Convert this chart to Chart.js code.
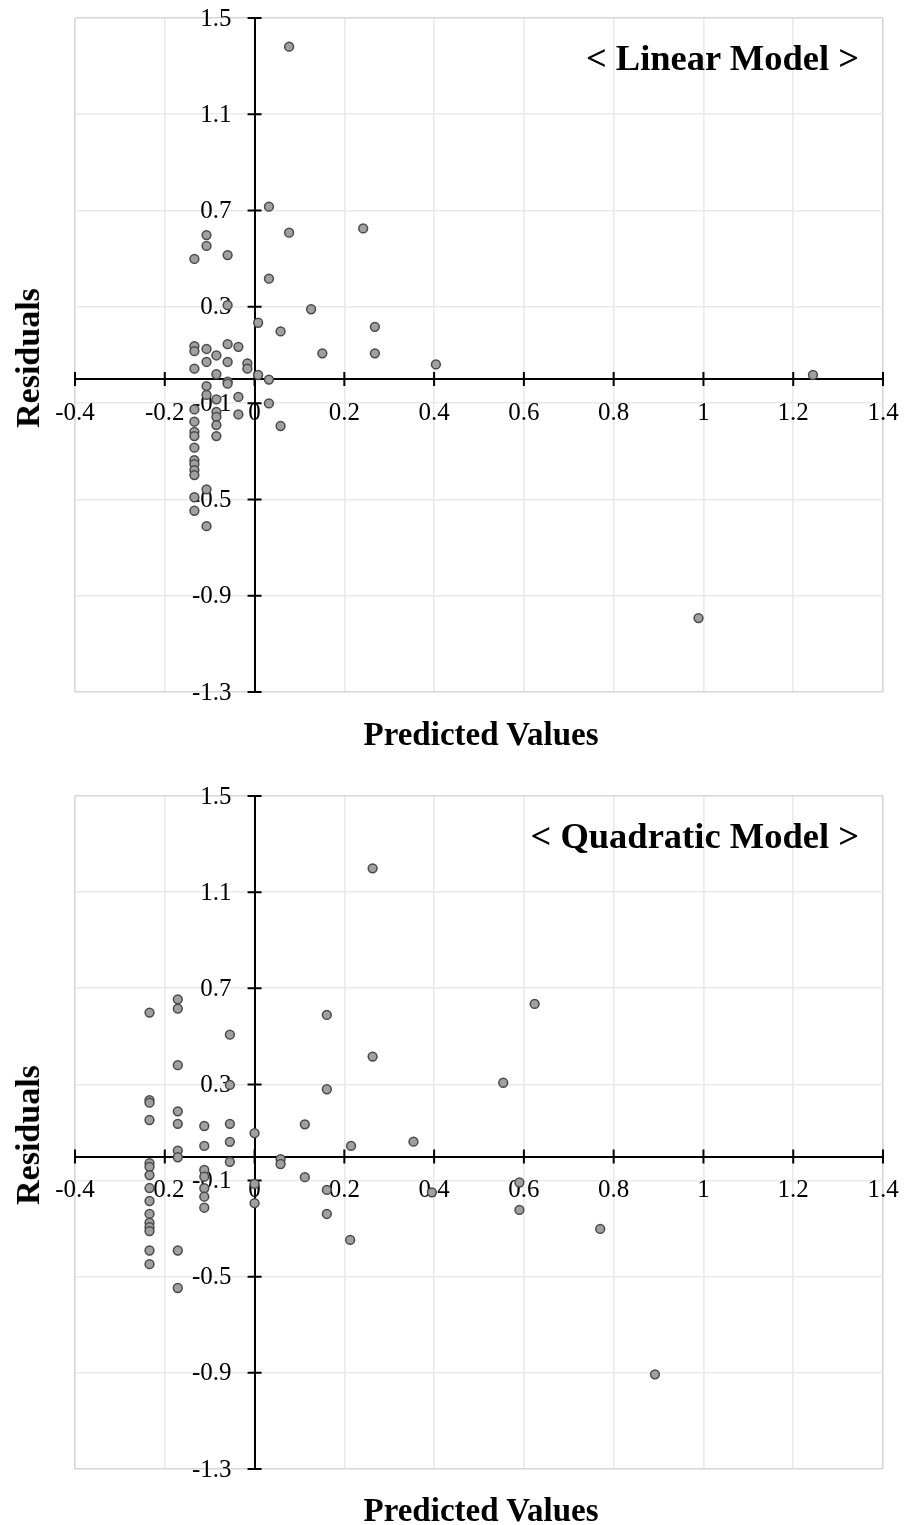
<!DOCTYPE html>
<html>
<head>
<meta charset="utf-8">
<script src="https://cdn.jsdelivr.net/npm/chart.js@4.4.1/dist/chart.umd.min.js"></script>
<style>
  html, body { margin: 0; padding: 0; background: #fff; }
  body { width: 904px; height: 1525px; position: relative; overflow: hidden; font-family: 'Liberation Serif', 'Times New Roman', serif; }
  canvas { position: absolute; left: 0; }
  #c1 { top: 0; }
  #c2 { top: 778px; }
  .lbl { position: absolute; font-weight: bold; color: #000; white-space: nowrap; line-height: 1; }
  .ytitle { font-size: 34px; transform: translate(-50%, -50%) rotate(-90deg); }
  .xtitle { font-size: 33px; transform: translate(-50%, -50%); }
  .model { font-size: 36.5px; transform: translate(-100%, -50%); }
</style>
</head>
<body>
<canvas id="c1" width="904" height="720"></canvas>
<canvas id="c2" width="904" height="720"></canvas>

<div class="lbl model" style="left:859px; top:58px;">&lt; Linear Model &gt;</div>
<div class="lbl ytitle" style="left:28px; top:358px;">Residuals</div>
<div class="lbl xtitle" style="left:481px; top:734px;">Predicted Values</div>

<div class="lbl model" style="left:859px; top:836px;">&lt; Quadratic Model &gt;</div>
<div class="lbl ytitle" style="left:28px; top:1135px;">Residuals</div>
<div class="lbl xtitle" style="left:481px; top:1510px;">Predicted Values</div>

<script>
// ---- Data ----
const xTickValues = [-0.4, -0.2, 0, 0.2, 0.4, 0.6, 0.8, 1, 1.2, 1.4];
const xTickLabels = ['-0.4', '-0.2', '0', '0.2', '0.4', '0.6', '0.8', '1', '1.2', '1.4'];
const yTickValues = [-1.3, -0.9, -0.5, -0.1, 0.3, 0.7, 1.1, 1.5];
const yTickLabels = ['-1.3', '-0.9', '-0.5', '-0.1', '0.3', '0.7', '1.1', '1.5'];

const linearPredicted = [
  0.077, 0.032, 0.077, 0.242, 0.032, 0.126, 0.008, 0.058, 0.268, 0.151,
  0.268, 0.404, 0.008, 0.032, 1.244, 0.989, -0.107, -0.107, -0.134, -0.060,
  -0.060, -0.134, -0.134, -0.107, -0.060, -0.036, -0.085, -0.107, -0.060, -0.016,
  -0.016, -0.134, -0.085, -0.060, -0.060, -0.107, -0.107, -0.085, -0.036, 0.032,
  -0.134, -0.085, -0.036, -0.134, -0.085, -0.085, -0.134, -0.134, -0.085, -0.134,
  -0.134, -0.134, -0.134, -0.134, -0.134, -0.134, -0.107, -0.107, 0.058
];
const linearResiduals = [
  1.381, 0.716, 0.608, 0.626, 0.417, 0.290, 0.234, 0.198, 0.217, 0.107,
  0.107, 0.061, 0.017, -0.002, 0.017, -0.993, 0.598, 0.553, 0.499, 0.515,
  0.307, 0.137, 0.116, 0.125, 0.145, 0.134, 0.098, 0.071, 0.071, 0.065,
  0.043, 0.043, 0.020, -0.011, -0.019, -0.029, -0.066, -0.084, -0.074, -0.101,
  -0.126, -0.136, -0.147, -0.177, -0.157, -0.191, -0.219, -0.237, -0.237, -0.285,
  -0.337, -0.353, -0.378, -0.399, -0.491, -0.547, -0.458, -0.611, -0.195
];

const quadraticPredicted = [
  0.263, 0.161, 0.263, 0.161, 0.112, 0.000, 0.215, 0.354, 0.058, 0.058,
  0.112, 0.161, 0.000, 0.000, 0.161, 0.395, 0.213, 0.624, 0.554, 0.590,
  0.590, 0.770, 0.892,
  -0.234, -0.234, -0.234, -0.234, -0.234, -0.234, -0.234, -0.234, -0.234, -0.234,
  -0.234, -0.234, -0.234, -0.234, -0.234,
  -0.171, -0.171, -0.171, -0.171, -0.171, -0.171, -0.171, -0.171, -0.171,
  -0.112, -0.112, -0.112, -0.112, -0.112, -0.112, -0.112,
  -0.055, -0.055, -0.055, -0.055, -0.055
];
const quadraticResiduals = [
  1.199, 0.589, 0.416, 0.280, 0.134, 0.097, 0.044, 0.062, -0.011, -0.031,
  -0.086, -0.139, -0.114, -0.194, -0.239, -0.149, -0.347, 0.635, 0.307, -0.108,
  -0.222, -0.301, -0.906,
  0.599, 0.235, 0.224, 0.152, -0.028, -0.043, -0.077, -0.131, -0.185, -0.239,
  -0.275, -0.294, -0.310, -0.391, -0.448,
  0.654, 0.615, 0.380, 0.188, 0.136, 0.025, -0.003, -0.391, -0.547,
  0.127, 0.044, -0.056, -0.084, -0.132, -0.167, -0.213,
  0.507, 0.298, 0.136, 0.061, -0.022
];

// ---- Chart setup ----
const FONT = "'Liberation Serif', 'Times New Roman', serif";
const TICK_SIZE = 25;
Chart.defaults.font.family = FONT;
Chart.defaults.color = '#000';

// cross-shaped tick marks on both axes + y tick labels left of the y axis
const axisDecor = {
  id: 'axisDecor',
  beforeDatasetsDraw(chart) {
    const ctx = chart.ctx;
    const xs = chart.scales.x, ys = chart.scales.y;
    const y0 = ys.getPixelForValue(0), x0 = xs.getPixelForValue(0);
    const half = 7;
    ctx.save();
    ctx.strokeStyle = '#000';
    ctx.lineWidth = 2;
    ctx.beginPath();
    xTickValues.forEach(v => {
      const px = xs.getPixelForValue(v);
      ctx.moveTo(px, y0 - half); ctx.lineTo(px, y0 + half);
    });
    yTickValues.forEach(v => {
      const py = ys.getPixelForValue(v);
      ctx.moveTo(x0 - half, py); ctx.lineTo(x0 + half, py);
    });
    ctx.stroke();
    ctx.fillStyle = '#000';
    ctx.font = TICK_SIZE + 'px ' + FONT;
    ctx.textAlign = 'right';
    ctx.textBaseline = 'middle';
    yTickValues.forEach((v, i) => {
      ctx.fillText(yTickLabels[i], x0 - 23, ys.getPixelForValue(v) + 1);
    });
    ctx.restore();
  }
};

function gridColor(min, max) {
  return c => {
    const v = c.tick ? c.tick.value : null;
    if (v !== null && (Math.abs(v - min) < 1e-9 || Math.abs(v - max) < 1e-9)) return '#d6d6d6';
    return '#eaeaea';
  };
}

function makeChart(id, xs, ys, pad) {
  const points = xs.map((x, i) => ({ x: x, y: ys[i] }));
  return new Chart(document.getElementById(id), {
    type: 'scatter',
    data: {
      datasets: [{
        data: points,
        backgroundColor: '#a0a0a0',
        borderColor: '#4a4a4a',
        borderWidth: 1.5,
        pointRadius: 4.4,
        pointHoverRadius: 4.4
      }]
    },
    options: {
      responsive: false,
      animation: false,
      devicePixelRatio: 1,
      layout: { padding: pad },
      plugins: { legend: { display: false }, tooltip: { enabled: false }, title: { display: false } },
      events: [],
      scales: {
        x: {
          type: 'linear',
          min: -0.4, max: 1.4,
          position: { y: 0 },
          afterBuildTicks: s => { s.ticks = xTickValues.map(v => ({ value: v })); },
          afterFit: s => { s.paddingLeft = 0; s.paddingRight = 0; s.paddingTop = 0; s.paddingBottom = 0; },
          ticks: {
            autoSkip: false,
            maxRotation: 0,
            padding: 11,
            font: { size: TICK_SIZE },
            color: '#000',
            callback: (v) => { const i = xTickValues.findIndex(t => Math.abs(t - v) < 1e-9); return i >= 0 ? xTickLabels[i] : ''; }
          },
          grid: { color: gridColor(-0.4, 1.4), lineWidth: 1.6, drawTicks: true, tickLength: 8, tickColor: 'rgba(0,0,0,0)' },
          border: { display: true, color: '#000', width: 2 }
        },
        y: {
          type: 'linear',
          min: -1.3, max: 1.5,
          position: { x: 0 },
          afterBuildTicks: s => { s.ticks = yTickValues.map(v => ({ value: v })); },
          afterFit: s => { s.paddingLeft = 0; s.paddingRight = 0; s.paddingTop = 0; s.paddingBottom = 0; },
          ticks: {
            display: false,
            autoSkip: false
          },
          grid: { color: gridColor(-1.3, 1.5), lineWidth: 1.6, drawTicks: false },
          border: { display: true, color: '#000', width: 2 }
        }
      }
    },
    plugins: [axisDecor]
  });
}

makeChart('c1', linearPredicted, linearResiduals, { left: 75, right: 21, top: 18, bottom: 28 });
makeChart('c2', quadraticPredicted, quadraticResiduals, { left: 75, right: 21, top: 18, bottom: 29 });
</script>
</body>
</html>
